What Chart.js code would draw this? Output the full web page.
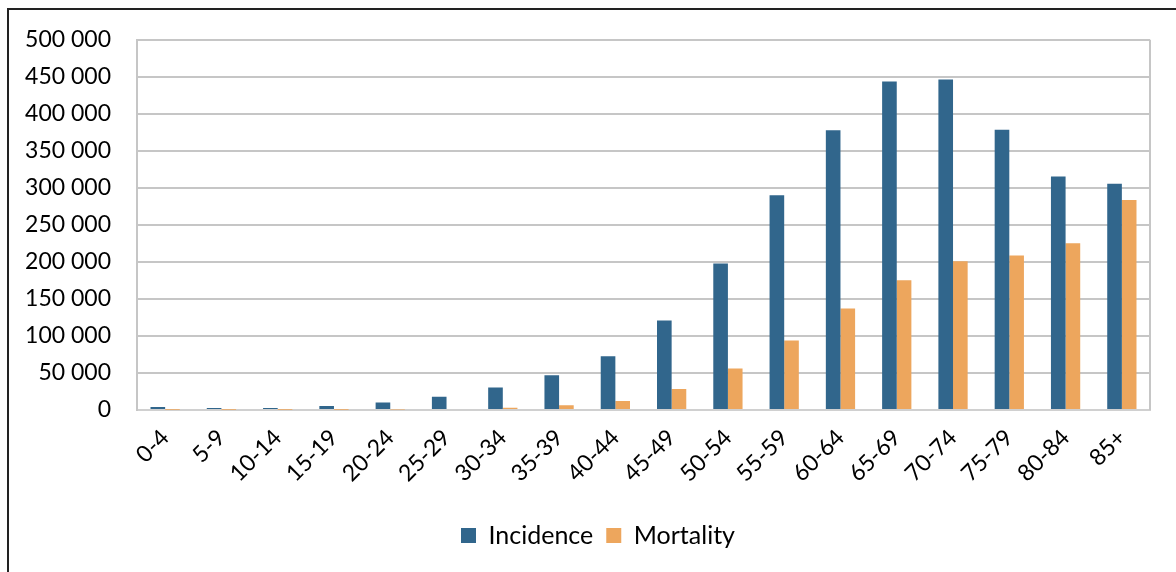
<!DOCTYPE html>
<html>
<head>
<meta charset="utf-8">
<script src="https://cdn.jsdelivr.net/npm/chart.js@4"></script>
<style>
  html, body { margin: 0; padding: 0; background: #fff; }
  #wrap { position: relative; width: 1176px; height: 572px; overflow: hidden; }
  #frame { position: absolute; left: 7px; top: 8px; width: 1300px; height: 700px;
           border-left: 2px solid #222; border-top: 2px solid #222; pointer-events: none; }
</style>
</head>
<body>
<div id="wrap">
  <canvas id="chart" width="1176" height="572"></canvas>
  <div id="frame"></div>
</div>
<script>
// Age groups and values
const ageGroups = ['0-4', '5-9', '10-14', '15-19', '20-24', '25-29', '30-34', '35-39', '40-44',
  '45-49', '50-54', '55-59', '60-64', '65-69', '70-74', '75-79', '80-84', '85+'];
const incidence = [4000, 2700, 2700, 5500, 10000, 18000, 30500, 46800, 72700,
  121000, 197800, 290000, 378000, 443700, 446400, 378600, 315400, 305500];
const mortality = [400, 300, 300, 500, 800, 1400, 3200, 6400, 12100,
  28300, 56000, 94000, 137000, 175400, 201000, 208600, 225200, 283500];

const fmt = v => v.toString().replace(/\B(?=(\d{3})+(?!\d))/g, ' ');

// right edge of the plot box, and nudge the legend to the centre of the frame
const plotFrame = {
  id: 'plotFrame',
  afterLayout(chart) {
    if (chart.legend) {
      chart.legend.left += 23;
      chart.legend.right += 23;
    }
  },
  afterDatasetsDraw(chart) {
    const { ctx, chartArea } = chart;
    ctx.save();
    ctx.strokeStyle = '#c6c6c6';
    ctx.lineWidth = 2;
    ctx.beginPath();
    ctx.moveTo(chartArea.right, chartArea.top);
    ctx.lineTo(chartArea.right, chartArea.bottom);
    ctx.stroke();
    ctx.restore();
  }
};

new Chart(document.getElementById('chart').getContext('2d'), {
  type: 'bar',
  data: {
    labels: ageGroups,
    datasets: [{
      label: 'Incidence',
      data: incidence,
      backgroundColor: '#31668c',
      borderWidth: 0
    }, {
      label: 'Mortality',
      data: mortality,
      backgroundColor: '#eda65d',
      borderWidth: 0
    }]
  },
  options: {
    responsive: false,
    animation: false,
    layout: { padding: { left: 0, top: 39, right: 26, bottom: 14 } },
    datasets: { bar: { categoryPercentage: 0.52, barPercentage: 1.0 } },
    scales: {
      x: {
        grid: { display: false, drawTicks: false },
        border: { color: '#d0d0d0', width: 2 },
        ticks: {
          color: '#000', font: { family: 'Lato', size: 23 },
          maxRotation: 45, minRotation: 45, padding: 14
        },
        afterFit(scale) { scale.height = 100; }
      },
      y: {
        min: 0, max: 500000,
        grid: { color: '#c6c6c6', lineWidth: 2, drawTicks: false },
        border: { color: '#c6c6c6', width: 2 },
        ticks: {
          stepSize: 50000, color: '#000', padding: 26,
          font: { family: 'Lato', size: 23 },
          callback: v => fmt(v)
        },
        afterFit(scale) { scale.width = 137; }
      }
    },
    plugins: {
      legend: {
        position: 'bottom',
        labels: {
          color: '#000', font: { family: 'Lato', size: 25 },
          boxWidth: 15, boxHeight: 15, padding: 13
        }
      },
      tooltip: { enabled: false }
    }
  },
  plugins: [plotFrame]
});
</script>
</body>
</html>
